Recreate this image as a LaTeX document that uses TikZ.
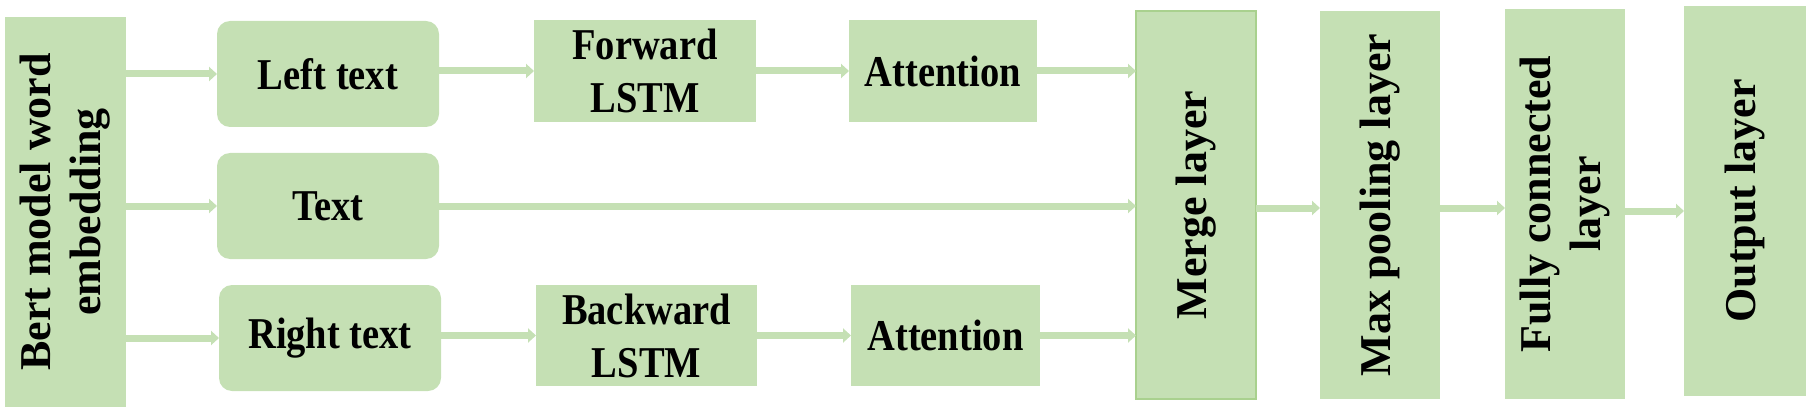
\documentclass[tikz,border=0pt]{standalone}
\usepackage{fontspec}
\setmainfont{Liberation Serif}
\newfontfamily\narrowfont[FakeStretch=0.875]{Liberation Serif}
\usetikzlibrary{arrows.meta}
\definecolor{boxgreen}{HTML}{C5E0B4}
\definecolor{rimgreen}{HTML}{A9D18E}
\tikzset{
  box/.style={fill=boxgreen, inner sep=0pt, outer sep=0pt, align=center,
    font=\narrowfont\bfseries\fontsize{44}{53}\selectfont},
  roundbox/.style={box, rounded corners=13pt, minimum width=222pt, minimum height=106pt},
  layer/.style={fill=boxgreen, inner sep=0pt, outer sep=0pt, minimum width=120pt,
    minimum height=388pt, font=\bfseries\fontsize{44}{50}\selectfont},
  flow/.style={draw=boxgreen, line width=7pt, -{Triangle[length=8pt,width=14pt]}}
}
\newcommand{\uptext}[1]{\rotatebox{90}{\begin{tabular}{@{}c@{}}#1\end{tabular}}}
\begin{document}
\begin{tikzpicture}[x=1pt,y=1pt]
  \useasboundingbox (0,0) rectangle (1811,413);
  \node[layer, minimum width=121pt, minimum height=390pt] (bert) at (65.5,201) {\uptext{Bert model word\\embedding}};

  \node[roundbox] (left) at (328,339) {Left text};
  \node[roundbox] (text) at (328,207) {Text};
  \node[roundbox] (right) at (330,75) {Right text};

  \node[box, minimum width=222pt, minimum height=102pt] (fwd) at (645,342) {Forward\\LSTM};
  \node[box, minimum width=188pt, minimum height=102pt] (attup) at (943,342) {Attention};
  \node[box, minimum width=221pt, minimum height=101pt] (bwd) at (646.5,77.5) {Backward\\LSTM};
  \node[box, minimum width=189pt, minimum height=101pt] (attdown) at (945.5,77.5) {Attention};

  \node[layer, draw=rimgreen, line width=1.5pt] (merge) at (1196,208) {\uptext{Merge layer}};
  \node[layer] (maxpool) at (1380,208) {\uptext{Max pooling layer}};
  \node[layer, minimum height=390pt] (fc) at (1565,209) {\uptext{Fully connected\\layer}};
  \node[layer, minimum width=122pt, minimum height=390pt] (out) at (1745,212) {\uptext{Output layer}};

  \draw[flow] (bert.east |- left.west) -- (left.west);
  \draw[flow] (bert.east |- text.west) -- (text.west);
  \draw[flow] (bert.east |- right.west) -- (right.west);
  \draw[flow] (left.east |- fwd.west) -- (fwd.west);
  \draw[flow] (fwd.east) -- (attup.west);
  \draw[flow] (attup.east) -- (attup.east -| merge.west);
  \draw[flow] (text.east) -- (text.east -| merge.west);
  \draw[flow] (right.east |- bwd.west) -- (bwd.west);
  \draw[flow] (bwd.east) -- (attdown.west);
  \draw[flow] (attdown.east) -- (attdown.east -| merge.west);
  \draw[flow] ([yshift=-3pt]merge.east) -- ([yshift=-3pt]merge.east -| maxpool.west);
  \draw[flow] ([yshift=-3pt]maxpool.east) -- ([yshift=-3pt]maxpool.east -| fc.west);
  \draw[flow] ([yshift=-7pt]fc.east) -- ([yshift=-7pt]fc.east -| out.west);
\end{tikzpicture}
\end{document}
